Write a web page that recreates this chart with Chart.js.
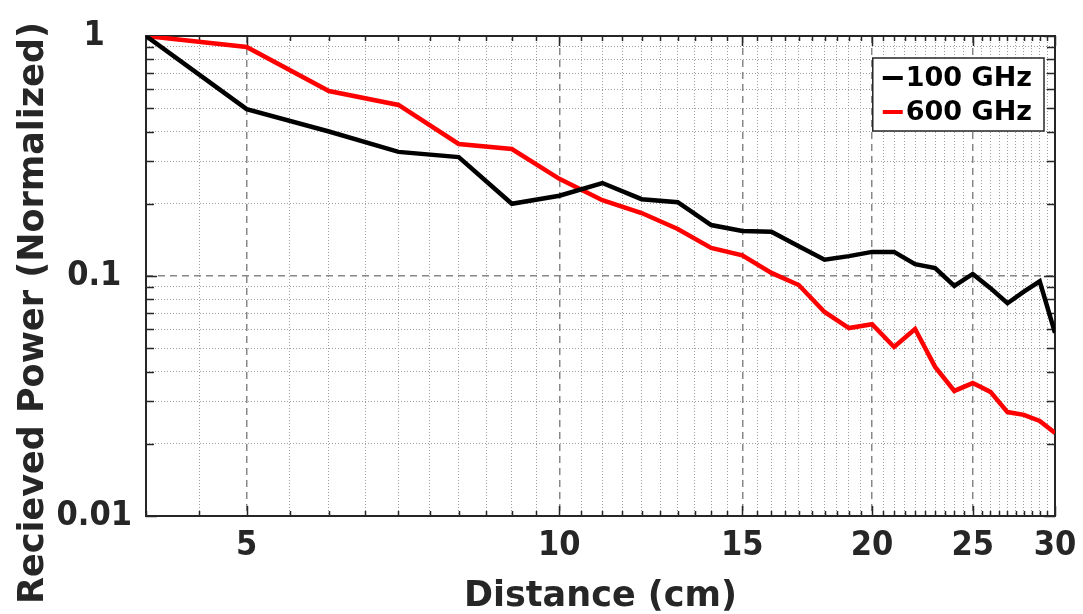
<!DOCTYPE html>
<html lang="en">
<head>
<meta charset="UTF-8">
<title>Received Power vs Distance</title>
<script src="https://cdn.jsdelivr.net/npm/chart.js"></script>
<style>
  body { margin: 0; background: #fff; }
  #powerChart { display: block; }
</style>
</head>
<body>
<canvas id="powerChart" width="1083" height="614"></canvas>
<script>
  // distance steps (cm) and normalized received power for each band
  const distances = [4, 5, 6, 7, 8, 9, 10, 11, 12, 13, 14, 15, 16, 17, 18, 19, 20, 21, 22, 23, 24, 25, 26, 27, 28, 29, 30];
  const power100 = [1, 0.496, 0.40, 0.329, 0.313, 0.200, 0.216, 0.244, 0.209, 0.203, 0.163, 0.154, 0.153, 0.133, 0.117,
                    0.121, 0.126, 0.126, 0.112, 0.108, 0.091, 0.102, 0.089, 0.077, 0.086, 0.095, 0.058];
  const power600 = [1, 0.90, 0.59, 0.516, 0.355, 0.338, 0.254, 0.207, 0.183, 0.157, 0.131, 0.122, 0.103, 0.0917, 0.0708,
                    0.0607, 0.063, 0.0506, 0.0601, 0.0418, 0.0332, 0.0358, 0.0329, 0.0271, 0.0264, 0.0249, 0.0222];
  const xTickLabels = [5, 10, 15, 20, 25, 30];
  const yTickLabels = [0.01, 0.1, 1];

  const INK = '#262626';
  const tickFont = { family: "'DejaVu Sans Condensed', 'DejaVu Sans', sans-serif", size: 34, weight: 'bold' };
  const titleFont = { family: "'DejaVu Sans', sans-serif", size: 35, weight: 'bold' };

  const toPoints = ys => distances.map((d, i) => ({ x: d, y: ys[i] }));

  // grid positions: every half cm along x, 1..9 per decade along y
  const xGrid = [];
  for (let v = 4; v <= 30; v += 0.5) xGrid.push(v);
  const yGrid = [];
  [0.01, 0.1].forEach(dec => {
    for (let m = 1; m <= 9; m++) yGrid.push(+(m * dec).toPrecision(3));
  });
  yGrid.push(1);

  const isMajor = c => !!(c.tick && c.tick.major);

  // keep the plot box fixed: labels overhanging the ends should not shrink it
  const noOverhang = s => {
    s.paddingTop = 0; s.paddingBottom = 0; s.paddingLeft = 0; s.paddingRight = 0;
  };

  // box and inward tick marks on all four sides
  const frame = {
    id: 'frame',
    beforeDatasetsDraw(chart) {
      const { ctx, chartArea: a, scales: { x, y } } = chart;
      ctx.save();
      ctx.strokeStyle = INK;
      ctx.lineWidth = 1.5;
      ctx.beginPath();
      x.ticks.forEach(t => {
        const px = Math.round(x.getPixelForValue(t.value)) + 0.5;
        const len = t.major ? 10 : 5;
        ctx.moveTo(px, a.bottom); ctx.lineTo(px, a.bottom - len);
        ctx.moveTo(px, a.top); ctx.lineTo(px, a.top + len);
      });
      y.ticks.forEach(t => {
        const py = Math.round(y.getPixelForValue(t.value)) + 0.5;
        const len = t.major ? 11 : 8;
        ctx.moveTo(a.left, py); ctx.lineTo(a.left + len, py);
        ctx.moveTo(a.right, py); ctx.lineTo(a.right - len, py);
      });
      ctx.stroke();
      ctx.lineWidth = 2;
      ctx.strokeRect(a.left, a.top, a.width, a.height);
      ctx.restore();
    }
  };

  // y title sits centred on the whole figure, plus the legend in the top-right corner
  const extras = {
    id: 'extras',
    afterDraw(chart) {
      const { ctx, chartArea: a } = chart;
      ctx.save();
      ctx.translate(34, 313);
      ctx.rotate(-Math.PI / 2);
      ctx.font = `bold ${titleFont.size}px ${titleFont.family}`;
      ctx.fillStyle = INK;
      ctx.textAlign = 'center';
      ctx.textBaseline = 'middle';
      ctx.fillText('Recieved Power (Normalized)', 0, 0);
      ctx.restore();

      const sets = chart.data.datasets;
      ctx.save();
      ctx.font = "bold 27px 'DejaVu Sans', sans-serif";
      const textW = Math.max(...sets.map(d => ctx.measureText(d.label).width));
      const rowH = 34, padL = 10, sample = 20, gap = 3, padR = 12;
      const w = padL + sample + gap + textW + padR;
      const h = rowH * sets.length + 5;
      const bx = a.right - 11 - w, by = a.top + 22;
      ctx.fillStyle = '#fff';
      ctx.fillRect(bx, by, w, h);
      ctx.lineWidth = 1.5;
      ctx.strokeStyle = INK;
      ctx.strokeRect(bx, by, w, h);
      ctx.textBaseline = 'middle';
      sets.forEach((d, i) => {
        const cy = by + 20 + i * rowH;
        ctx.strokeStyle = d.borderColor;
        ctx.lineWidth = 4;
        ctx.beginPath();
        ctx.moveTo(bx + padL, cy);
        ctx.lineTo(bx + padL + sample, cy);
        ctx.stroke();
        ctx.fillStyle = '#000';
        ctx.fillText(d.label, bx + padL + sample + gap, cy + 1);
      });
      ctx.restore();
    }
  };

  new Chart(document.getElementById('powerChart'), {
    type: 'line',
    data: {
      datasets: [
        { label: '100 GHz', data: toPoints(power100), borderColor: '#000000', borderWidth: 4.5, pointRadius: 0, tension: 0 },
        { label: '600 GHz', data: toPoints(power600), borderColor: '#ff0000', borderWidth: 4.5, pointRadius: 0, tension: 0 }
      ]
    },
    options: {
      responsive: false,
      animation: false,
      devicePixelRatio: 1,
      layout: { padding: { top: 36, right: 28, left: 0, bottom: 0 } },
      plugins: { legend: { display: false }, tooltip: { enabled: false } },
      scales: {
        x: {
          type: 'logarithmic',
          min: 4,
          max: 30,
          afterBuildTicks: s => { s.ticks = xGrid.map(v => ({ value: v, major: xTickLabels.includes(v) })); },
          afterFit: s => { s.height = 98; noOverhang(s); },
          ticks: {
            autoSkip: false, maxRotation: 0, padding: 10, color: INK, font: tickFont,
            callback: v => xTickLabels.includes(v) ? String(v) : ''
          },
          grid: {
            drawTicks: false,
            color: c => isMajor(c) ? '#878787' : '#9e9e9e',
            lineWidth: c => isMajor(c) ? 1.5 : 1
          },
          border: { display: false, dash: c => isMajor(c) ? [7, 5] : [1, 2] },
          title: { display: true, text: 'Distance (cm)', color: INK, font: { ...titleFont, lineHeight: 1 }, padding: 0 }
        },
        y: {
          type: 'logarithmic',
          min: 0.01,
          max: 1,
          afterBuildTicks: s => { s.ticks = yGrid.map(v => ({ value: v, major: yTickLabels.includes(v) })); },
          afterFit: s => { s.width = 146; noOverhang(s); },
          ticks: {
            autoSkip: false, padding: 14, crossAlign: 'center', color: INK, font: tickFont,
            callback: v => yTickLabels.includes(v) ? String(v) : ''
          },
          grid: {
            drawTicks: false,
            color: c => isMajor(c) ? '#878787' : '#9e9e9e',
            lineWidth: c => isMajor(c) ? 1.5 : 1
          },
          border: { display: false, dash: c => isMajor(c) ? [7, 5] : [1, 2] }
        }
      }
    },
    plugins: [frame, extras]
  });
</script>
</body>
</html>
